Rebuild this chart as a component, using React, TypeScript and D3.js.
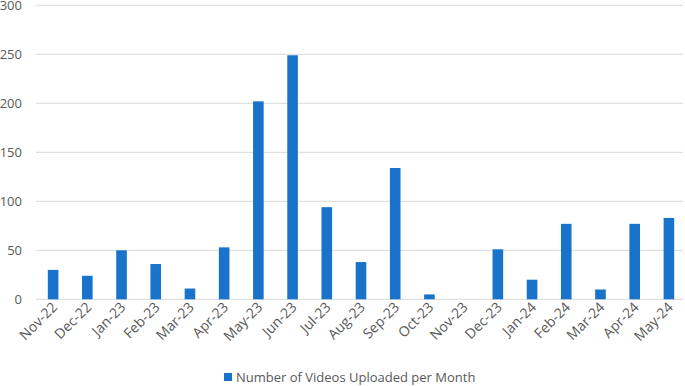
import React from "react";
import * as d3 from "d3";

const categories = ["Nov-22","Dec-22","Jan-23","Feb-23","Mar-23","Apr-23","May-23","Jun-23","Jul-23","Aug-23","Sep-23","Oct-23","Nov-23","Dec-23","Jan-24","Feb-24","Mar-24","Apr-24","May-24"];
const values = [30,24,50,36,11,53,202,249,94,38,134,5,0,51,20,77,10,77,83];
const yTicks = [0,50,100,150,200,250,300];
const seriesName = "Number of Videos Uploaded per Month";

const W = 685, H = 386;
const left = 36, right = 686, top = 5.3, bottom = 299.3;
const color = "#1a73cb";
const textColor = "#595959";
const font = "'Open Sans', sans-serif";

export default function App() {
  const x = d3.scaleBand<string>().domain(categories).range([left, right]).paddingInner(0.69).paddingOuter(0.345);
  const y = d3.scaleLinear().domain([0, 300]).range([bottom, top]);
  return (
    <svg width={W} height={H} style={{ position: "absolute", left: 0, top: 0, background: "#fff" }}>
      {yTicks.map(t => (
        <g key={t}>
          <line x1={left} x2={683} y1={y(t)} y2={y(t)} stroke="#d9d9d9" strokeWidth={1} />
          <text x={22} y={y(t)} dy="0.35em" textAnchor="end" fontFamily={font} fontSize={13} fill={textColor}>{t}</text>
        </g>
      ))}
      {categories.map((c, i) => (
        <rect key={c} x={x(c)} y={y(values[i])} width={x.bandwidth()} height={y(0) - y(values[i])} fill={color} />
      ))}
      {categories.map(c => {
        const cx = (x(c) as number) + x.bandwidth() / 2 + 5;
        const cy = 308;
        return (
          <text key={c} x={cx} y={cy} transform={`rotate(-45 ${cx} ${cy})`} textAnchor="end" fontFamily={font} fontSize={14} fill={textColor}>{c}</text>
        );
      })}
      <rect x={224} y={373} width={8} height={8} fill={color} />
      <text x={236} y={377} dy="0.35em" fontFamily={font} fontSize={13} fill={textColor}>{seriesName}</text>
    </svg>
  );
}
